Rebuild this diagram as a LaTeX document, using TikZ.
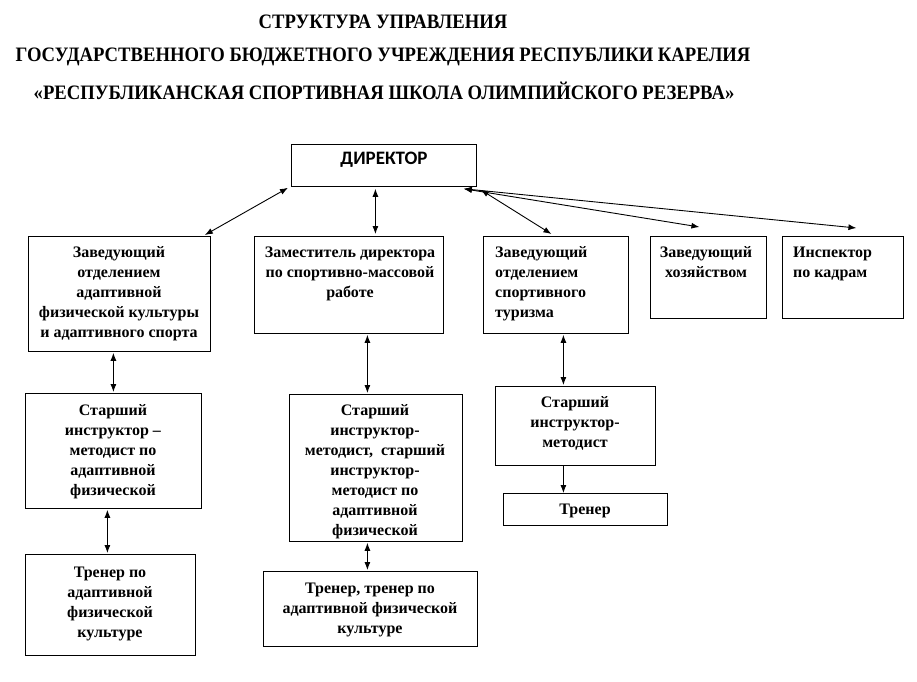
\documentclass[tikz,border=0pt]{standalone}
\usepackage{fontspec}
\setmainfont{Liberation Serif}
\newfontfamily\titlefont[FakeStretch=0.91]{Liberation Serif}
\newfontfamily\headfont{Carlito}
\usetikzlibrary{arrows.meta}
\newcommand{\ctext}[1]{\begin{tabular}[t]{@{}c@{}}#1\end{tabular}}
\newcommand{\ltext}[1]{\begin{tabular}[t]{@{}l@{}}#1\end{tabular}}

\begin{document}
\begin{tikzpicture}[x=1pt,y=-1pt,>={Latex[length=8pt,width=6pt]}]

    \tikzset{
      box/.style={
        draw,
        line width=0.8pt,
        inner sep=0pt,
        anchor=north west,
      },
      txt/.style={font=\bfseries\fontsize{16}{20}\selectfont, inner sep=0pt, anchor=base},
      txtleft/.style={txt, anchor=base west},
      heading/.style={font=\titlefont\bfseries\fontsize{20.5}{24}\selectfont, inner sep=0pt},
      conn/.style={<->, line width=0.9pt},
    }
    \useasboundingbox (0,0) rectangle (917,681);

    % heading
	\draw [color={black}] (383,22) node[heading] (t1) {СТРУКТУРА УПРАВЛЕНИЯ};
	\draw [color={black}] (383,57) node[heading] (t2) {ГОСУДАРСТВЕННОГО БЮДЖЕТНОГО УЧРЕЖДЕНИЯ РЕСПУБЛИКИ КАРЕЛИЯ};
	\draw [color={black}] (384,91) node[heading] (t3) {«РЕСПУБЛИКАНСКАЯ СПОРТИВНАЯ ШКОЛА ОЛИМПИЙСКОГО РЕЗЕРВА»};

    % boxes
	\draw (291,144) node[box, minimum width=185pt, minimum height=42pt] (dir) {};
	\draw (28,236) node[box, minimum width=182pt, minimum height=115pt] (adapt) {};
	\draw (254,236) node[box, minimum width=189pt, minimum height=97pt] (deputy) {};
	\draw (483,236) node[box, minimum width=145pt, minimum height=97pt] (tour) {};
	\draw (650,236) node[box, minimum width=116pt, minimum height=82pt] (house) {};
	\draw (782,236) node[box, minimum width=121pt, minimum height=82pt] (staff) {};
	\draw (25,393) node[box, minimum width=176pt, minimum height=115pt] (adaptmet) {};
	\draw (289,394) node[box, minimum width=173pt, minimum height=147pt] (deputymet) {};
	\draw (495,386) node[box, minimum width=160pt, minimum height=79pt] (tourmet) {};
	\draw (503,493) node[box, minimum width=164pt, minimum height=32pt] (tourcoach) {};
	\draw (25,554) node[box, minimum width=170pt, minimum height=101pt] (adaptcoach) {};
	\draw (263,571) node[box, minimum width=214pt, minimum height=75pt] (deputycoach) {};

    % texts
	\draw (384,160) node[font=\headfont\bfseries\fontsize{19}{22}\selectfont] (dir-t) {ДИРЕКТОР};
	\draw (119,257) node[txt] (adapt-t) {\ctext{Заведующий\\отделением\\адаптивной\\физической культуры\\и адаптивного спорта}};
	\draw (350,257) node[txt] (deputy-t) {\ctext{Заместитель директора\\по спортивно-массовой\\работе}};
	\draw (495,257) node[txtleft] (tour-t) {\ltext{Заведующий\\отделением\\спортивного\\туризма}};
	\draw (706,257) node[txt] (house-t) {\ctext{Заведующий\\хозяйством}};
	\draw (793,257) node[txtleft] (staff-t) {\ltext{Инспектор\\по кадрам}};
	\draw (113,415) node[txt] (adaptmet-t) {\ctext{Старший\\инструктор –\\методист по\\адаптивной\\физической}};
	\draw (375,415) node[txt] (deputymet-t) {\ctext{Старший\\инструктор-\\методист,~ старший\\инструктор-\\методист по\\адаптивной\\физической}};
	\draw (575,407) node[txt] (tourmet-t) {\ctext{Старший\\инструктор-\\методист}};
	\draw (585,514) node[txt] (tourcoach-t) {Тренер};
	\draw (110,577) node[txt] (adaptcoach-t) {\ctext{Тренер по\\адаптивной\\физической\\культуре}};
	\draw (370,593) node[txt] (deputycoach-t) {\ctext{Тренер, тренер по\\адаптивной физической\\культуре}};

    % links
	\draw[color={black},conn] ([xshift=-3pt,yshift=-1pt]dir.south west)--([xshift=-6pt,yshift=1pt]adapt.north east);
	\draw[color={black},conn] ([xshift=-8.5pt,yshift=-2pt]dir.south)--([xshift=26.5pt,yshift=2pt]deputy.north);
	\draw[color={black},conn] ([xshift=4pt,yshift=-3pt]dir.south east)--([xshift=-4.5pt,yshift=2pt]tour.north);
	\draw[color={black},conn] ([xshift=-13pt,yshift=-2pt]dir.south east)--([xshift=-9pt,yshift=9pt]house.north);
	\draw[color={black},conn] ([xshift=-13pt,yshift=-2pt]dir.south east)--([xshift=13.5pt,yshift=8pt]staff.north);
	\draw[color={black},conn] ([yshift=-1pt]adapt.south -| adaptmet.north)--([yshift=1pt]adaptmet.north);
	\draw[color={black},conn] ([xshift=-6pt,yshift=-1pt]adaptmet.south)--([xshift=-3pt,yshift=1pt]adaptcoach.north);
	\draw[color={black},conn] ([xshift=18.5pt,yshift=-1pt]deputy.south)--([xshift=-8.5pt,yshift=1pt]deputymet.north);
	\draw[color={black},conn] ([xshift=-8.5pt,yshift=-1pt]deputymet.south)--([xshift=-3pt,yshift=1pt]deputycoach.north);
	\draw[color={black},conn] ([xshift=7.5pt,yshift=-1pt]tour.south)--([xshift=-12pt,yshift=1pt]tourmet.north);
	\draw[color={black},line width=0.9pt,->] ([xshift=-12pt]tourmet.south)--([xshift=-22pt]tourcoach.north);

\end{tikzpicture}
\end{document}
